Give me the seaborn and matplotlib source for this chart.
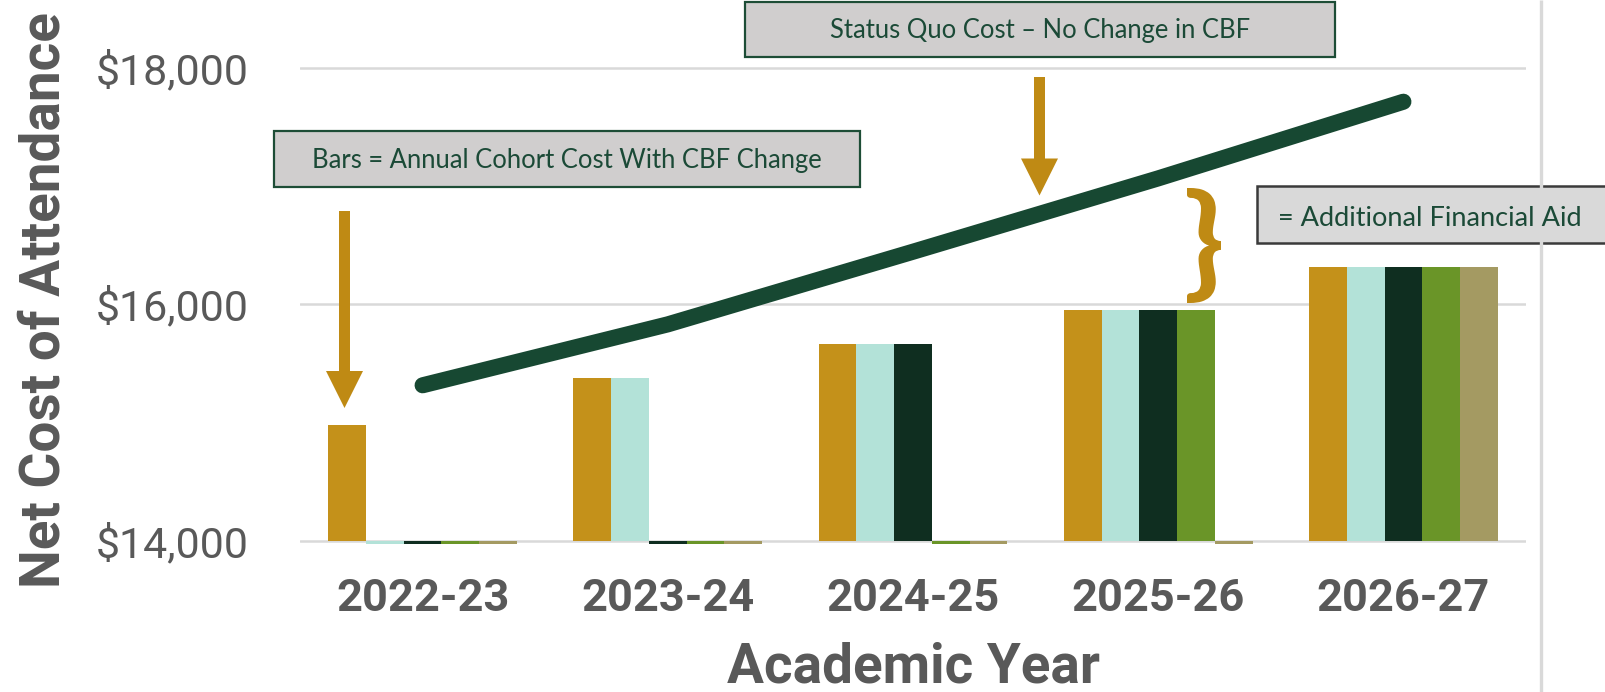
import numpy as np
import pandas as pd
import matplotlib
matplotlib.use("Agg")
import matplotlib.pyplot as plt
import seaborn as sns
from matplotlib.patches import Rectangle, Polygon, PathPatch
from matplotlib.textpath import TextPath
from matplotlib.font_manager import FontProperties
from matplotlib.transforms import Affine2D
from matplotlib.ticker import FuncFormatter

# ---------------- data ----------------
years = ["2022-23", "2023-24", "2024-25", "2025-26", "2026-27"]
cohorts = ["Cohort 1", "Cohort 2", "Cohort 3", "Cohort 4", "Cohort 5"]
# annual cohort net cost with CBF change (0 = cohort not yet enrolled)
cohort1 = [14980, 15375, 15660, 15950, 16318]
cohort2 = [0, 15375, 15660, 15950, 16318]
cohort3 = [0, 0, 15660, 15950, 16318]
cohort4 = [0, 0, 0, 15950, 16318]
cohort5 = [0, 0, 0, 0, 16318]
# status quo cost - no change in CBF
status_quo = [15315, 15830, 16444, 17064, 17712]
y_ticks = [14000, 16000, 18000]
axis_floor = 14000

cohort_colors = ["#C4911A", "#B3E2D8", "#0F2E20", "#6A9528", "#A49A62"]
line_color = "#174832"
gold = "#BF8A14"
gray = "#595959"
box_text = "#1B4A37"

rows = []
for c, vals in zip(cohorts, [cohort1, cohort2, cohort3, cohort4, cohort5]):
    for y, v in zip(years, vals):
        rows.append({"year": y, "cohort": c, "cost": v})
df = pd.DataFrame(rows)
df["height"] = df["cost"] - axis_floor

# ---------------- figure ----------------
sns.set_style("white")
plt.rcParams["font.family"] = ["Roboto", "DejaVu Sans"]

W, H = 1606, 692
fig = plt.figure(figsize=(W / 100, H / 100), dpi=100)
ax = fig.add_axes([0.18680, 0.21416, 0.76339, 0.69321])

sns.barplot(data=df, x="year", y="height", hue="cohort", order=years,
            hue_order=cohorts, palette=cohort_colors, width=0.77,
            saturation=1, errorbar=None, legend=False, linewidth=0,
            bottom=axis_floor, ax=ax, zorder=2)

sns.lineplot(x=np.arange(len(years)), y=status_quo, ax=ax, color=line_color,
             linewidth=11.6, solid_capstyle="round", solid_joinstyle="round",
             zorder=4)

ax.set_xlim(-0.5, len(years) - 0.5)
ax.set_ylim(13975, 18030)
ax.set_axisbelow(True)
ax.yaxis.grid(True, color="#D9D9D9", linewidth=1.8)
ax.xaxis.grid(False)
for s in ax.spines.values():
    s.set_visible(False)

ax.set_yticks(y_ticks)
ax.yaxis.set_major_formatter(FuncFormatter(lambda v, p: f"${v:,.0f}"))
ax.set_xticks(range(len(years)), labels=years, fontweight="bold",
              fontsize=32.5, color=gray)
ax.tick_params(axis="both", length=0)
ax.tick_params(axis="x", pad=24.5)
ax.tick_params(axis="y", pad=36.7, labelsize=31, labelcolor=gray)

ax.set_xlabel("Academic Year", fontsize=39.5, fontweight="bold", color=gray)
ax.xaxis.set_label_coords(0.5, -0.2037)
ax.set_ylabel("Net Cost of Attendance", fontsize=39.5, fontweight="bold",
              color=gray)
ax.yaxis.set_label_coords(-0.1872, 0.5089)

# ---------------- annotation overlay (pixel coords) ----------------
ov = fig.add_axes([0, 0, 1, 1], zorder=10)
ov.set_xlim(0, W)
ov.set_ylim(H, 0)
ov.axis("off")
ov.patch.set_alpha(0)

ov.plot([1541, 1541], [0, H], color="#D9D9D9", lw=2.4, solid_capstyle="butt")

ov.add_patch(Rectangle((274.5, 130.5), 585.5, 56, fc="#D0CECE", ec="#1D4D36", lw=1.6))
ov.add_patch(Rectangle((744.8, 1.7), 590, 55, fc="#D0CECE", ec="#1D4D36", lw=1.6))
ov.add_patch(Rectangle((1256.7, 185.5), 400, 57, fc="#D9D9D9", ec="#3A3A3A", lw=1.8))

renderer = fig.canvas.get_renderer()


def fit_text(x, y, s, target_w, ha="center"):
    t = ov.text(x, y, s, ha=ha, va="baseline", color=box_text,
                fontsize=20, family=["Lato", "DejaVu Sans"])
    w = t.get_window_extent(renderer).width
    t.set_fontsize(20 * target_w / w)
    return t


fit_text(567, 168.3, "Bars = Annual Cohort Cost With CBF Change", 510)
fit_text(1040, 38.3, "Status Quo Cost \u2013 No Change in CBF", 420)
fit_text(1278, 225.5, "= Additional Financial Aid", 304, ha="left")


def down_arrow(x, y_top, y_tip, sw=11, hw=37, hl=37):
    pts = [(x - sw / 2, y_top), (x + sw / 2, y_top), (x + sw / 2, y_tip - hl),
           (x + hw / 2, y_tip - hl), (x, y_tip), (x - hw / 2, y_tip - hl),
           (x - sw / 2, y_tip - hl)]
    ov.add_patch(Polygon(pts, closed=True, fc=gold, ec="none"))


down_arrow(344.5, 211, 408)
down_arrow(1039.5, 77, 195.5)

# curly brace
tp = TextPath((0, 0), "}", size=100,
              prop=FontProperties(family="Lato", weight="bold"))
ext = tp.get_extents()
bx0, bx1, by0, by1 = 1187, 1221, 188, 303
sx = (bx1 - bx0) / ext.width
sy = (by1 - by0) / ext.height
tr = Affine2D().translate(-ext.x0, -ext.y0).scale(sx, -sy).translate(bx0, by1)
ov.add_patch(PathPatch(tr.transform_path(tp), fc=gold, ec="none"))

fig.savefig("out.png", dpi=100, facecolor="white")
